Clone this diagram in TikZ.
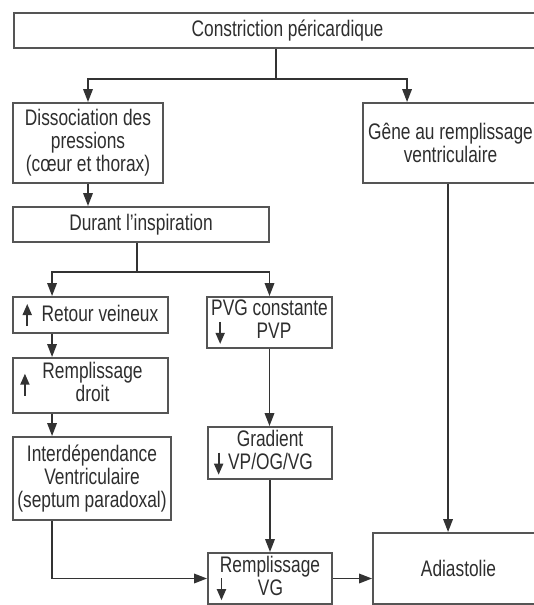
\documentclass[tikz,border=0pt]{standalone}
\usepackage{fontspec}
\setmainfont{Liberation Sans}[FakeStretch=0.77]
\usepackage{xcolor}
\usepackage{tikz}
\usetikzlibrary{arrows.meta,calc,positioning}
\definecolor{ink}{HTML}{2E2E2E}
\definecolor{frame}{HTML}{555555}
\definecolor{wire}{HTML}{333333}
\newcommand{\uparr}{\tikz[baseline=5pt]\draw[wire,line width=1.8pt,-{Triangle[length=11pt,width=9pt]}] (0pt,0pt) -- (0pt,22pt);}
\newcommand{\downarr}{\tikz[baseline=5pt]\draw[wire,line width=1.8pt,-{Triangle[length=11pt,width=9pt]}] (0pt,22pt) -- (0pt,0pt);}
\tikzset{
  font=\fontsize{22.5}{23}\selectfont,
  block/.style={draw=frame, line width=1.9pt, fill=white, text=ink, align=center, inner sep=0pt},
  flow/.style={-{Triangle[length=13pt,width=9.5pt]}, draw=wire, line width=1.8pt},
  link/.style={draw=wire, line width=1.8pt}
}

\begin{document}
\begin{tikzpicture}[x=1pt,y=-1pt]
  \useasboundingbox (0,0) rectangle (534,605);

  \node[block, minimum width=547pt, minimum height=35pt] (constr) at (287.5,30.5) {Constriction péricardique};
  \node[block, minimum width=150pt, minimum height=80pt] (dissoc) at (88,143) {Dissociation des\\pressions\\(cœur et thorax)};
  \node[block, minimum width=175pt, minimum height=80pt] (gene) at (450.5,143) {Gêne au remplissage\\ventriculaire};
  \node[block, minimum width=256pt, minimum height=35pt] (inspi) at (141,224.5) {Durant l’inspiration};

  \node[block, minimum width=155pt, minimum height=36pt] (retour) at (90.5,315) {\uparr\hspace{10pt}Retour veineux};
  \node[block, minimum width=155pt, minimum height=55pt] (rempd) at (90.5,385.5) {\uparr\hspace{13pt}\begin{tabular}[c]{@{}c@{}}Remplissage\\droit\end{tabular}\hspace*{18pt}};
  \node[block, minimum width=158pt, minimum height=83pt] (interdep) at (92,478.5) {Interdépendance\\Ventriculaire\\(septum paradoxal)};

  \node[block, minimum width=125pt, minimum height=51pt] (pvg) at (269.5,322.5) {PVG constante\\\downarr\hspace{32pt}PVP\hspace*{32pt}};
  \node[block, minimum width=124pt, minimum height=52pt] (gradient) at (270,453) {Gradient\\\downarr\hspace{5pt}VP/OG/VG\hspace*{13pt}};
  \node[block, minimum width=124pt, minimum height=51pt] (rempvg) at (270,578.5) {Remplissage\\\downarr\hspace{32pt}VG\hspace*{40pt}};
  \node[block, minimum width=171pt, minimum height=71pt] (adiast) at (458.5,568.5) {Adiastolie};

  % top split
  \coordinate (split1) at (276,79);
  \draw[link] (split1 |- constr.south) -- (split1);
  \draw[flow] (split1) -| (dissoc.north);
  \draw[flow] (split1) -| ($(gene.north west)+(45,0)$);
  \draw[flow] (dissoc.south) -- (dissoc.south |- inspi.north);

  % inspiration split
  \coordinate (split2) at (137,272);
  \draw[link] (split2 |- inspi.south) -- (split2);
  \draw[flow] (split2) -| ($(retour.north west)+(40,0)$);
  \draw[flow] (split2) -| (pvg.north);

  \draw[flow] ($(retour.south west)+(40,0)$) -- ($(rempd.north west)+(40,0)$);
  \draw[flow] ($(rempd.south west)+(40,0)$) -- ($(interdep.north west)+(40,0)$);
  \draw[flow] (pvg.south) -- (pvg.south |- gradient.north);
  \draw[flow] (gradient.south) -- (gradient.south |- rempvg.north);
  \draw[flow] ($(interdep.south west)+(40,0)$) |- (rempvg.west);
  \draw[flow] (rempvg.east) -- (rempvg.east -| adiast.west);
  \draw[flow] ($(gene.south west)+(86,0)$) -- ($(adiast.north west)+(76,0)$);
\end{tikzpicture}
\end{document}
